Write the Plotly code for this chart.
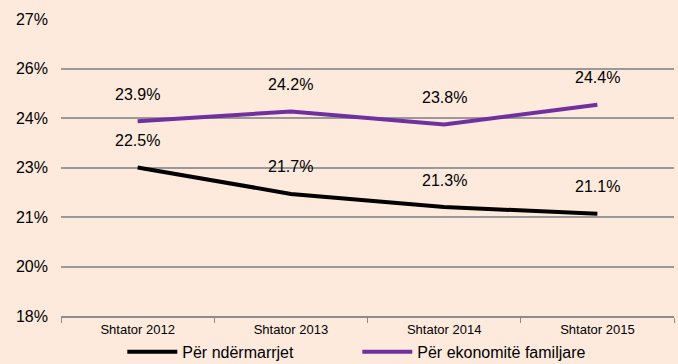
import plotly.graph_objects as go

# Interest rate series by survey month (percent)
categories = ["Shtator 2012", "Shtator 2013", "Shtator 2014", "Shtator 2015"]
firms = [22.5, 21.7, 21.3, 21.1]
households = [23.9, 24.2, 23.8, 24.4]
series_names = ["Për ndërmarrjet", "Për ekonomitë familjare"]

tick_vals = [18, 19.5, 21, 22.5, 24, 25.5, 27]
tick_text = ["18%", "20%", "21%", "23%", "24%", "26%", "27%"]

BG = "#FDEADC"
FONT = "Liberation Sans, Arial, sans-serif"

fig = go.Figure()
fig.add_trace(go.Scatter(x=categories, y=firms, mode="lines", name=series_names[0],
                         line=dict(color="#000000", width=4)))
fig.add_trace(go.Scatter(x=categories, y=households, mode="lines", name=series_names[1],
                         line=dict(color="#7030A0", width=4)))

# Value labels sit above each point
for vals in (firms, households):
    for c, v in zip(categories, vals):
        fig.add_annotation(x=c, y=v, text=f"{v:.1f}%", showarrow=False, yshift=27,
                           font=dict(family=FONT, size=16, color="#000000"))

fig.update_layout(
    width=678, height=364,
    margin=dict(l=61, r=4, t=19, b=48, autoexpand=False),
    paper_bgcolor=BG, plot_bgcolor=BG,
    font=dict(family=FONT, color="#000000"),
    showlegend=True,
    legend=dict(orientation="h", x=0.1, xanchor="left", y=-0.121, yanchor="middle",
                font=dict(family=FONT, size=16), itemwidth=50, bgcolor="rgba(0,0,0,0)",
                entrywidth=170, entrywidthmode="pixels"),
)
fig.update_xaxes(type="category", range=[-0.5, 3.5], showgrid=False, showline=True,
                 linecolor="#8C8C8C", linewidth=2,
                 ticks="outside", tickson="boundaries", ticklen=5, tickcolor="#8C8C8C", tickwidth=1,
                 tickfont=dict(family=FONT, size=13), fixedrange=True)
fig.update_yaxes(range=[18, 27], tickvals=tick_vals, ticktext=tick_text, showgrid=True,
                 gridcolor="#999999", gridwidth=2, zeroline=False, showline=False,
                 tickfont=dict(family=FONT, size=16), ticks="", ticklabelstandoff=12,
                 fixedrange=True)

fig.write_html("out.html")
